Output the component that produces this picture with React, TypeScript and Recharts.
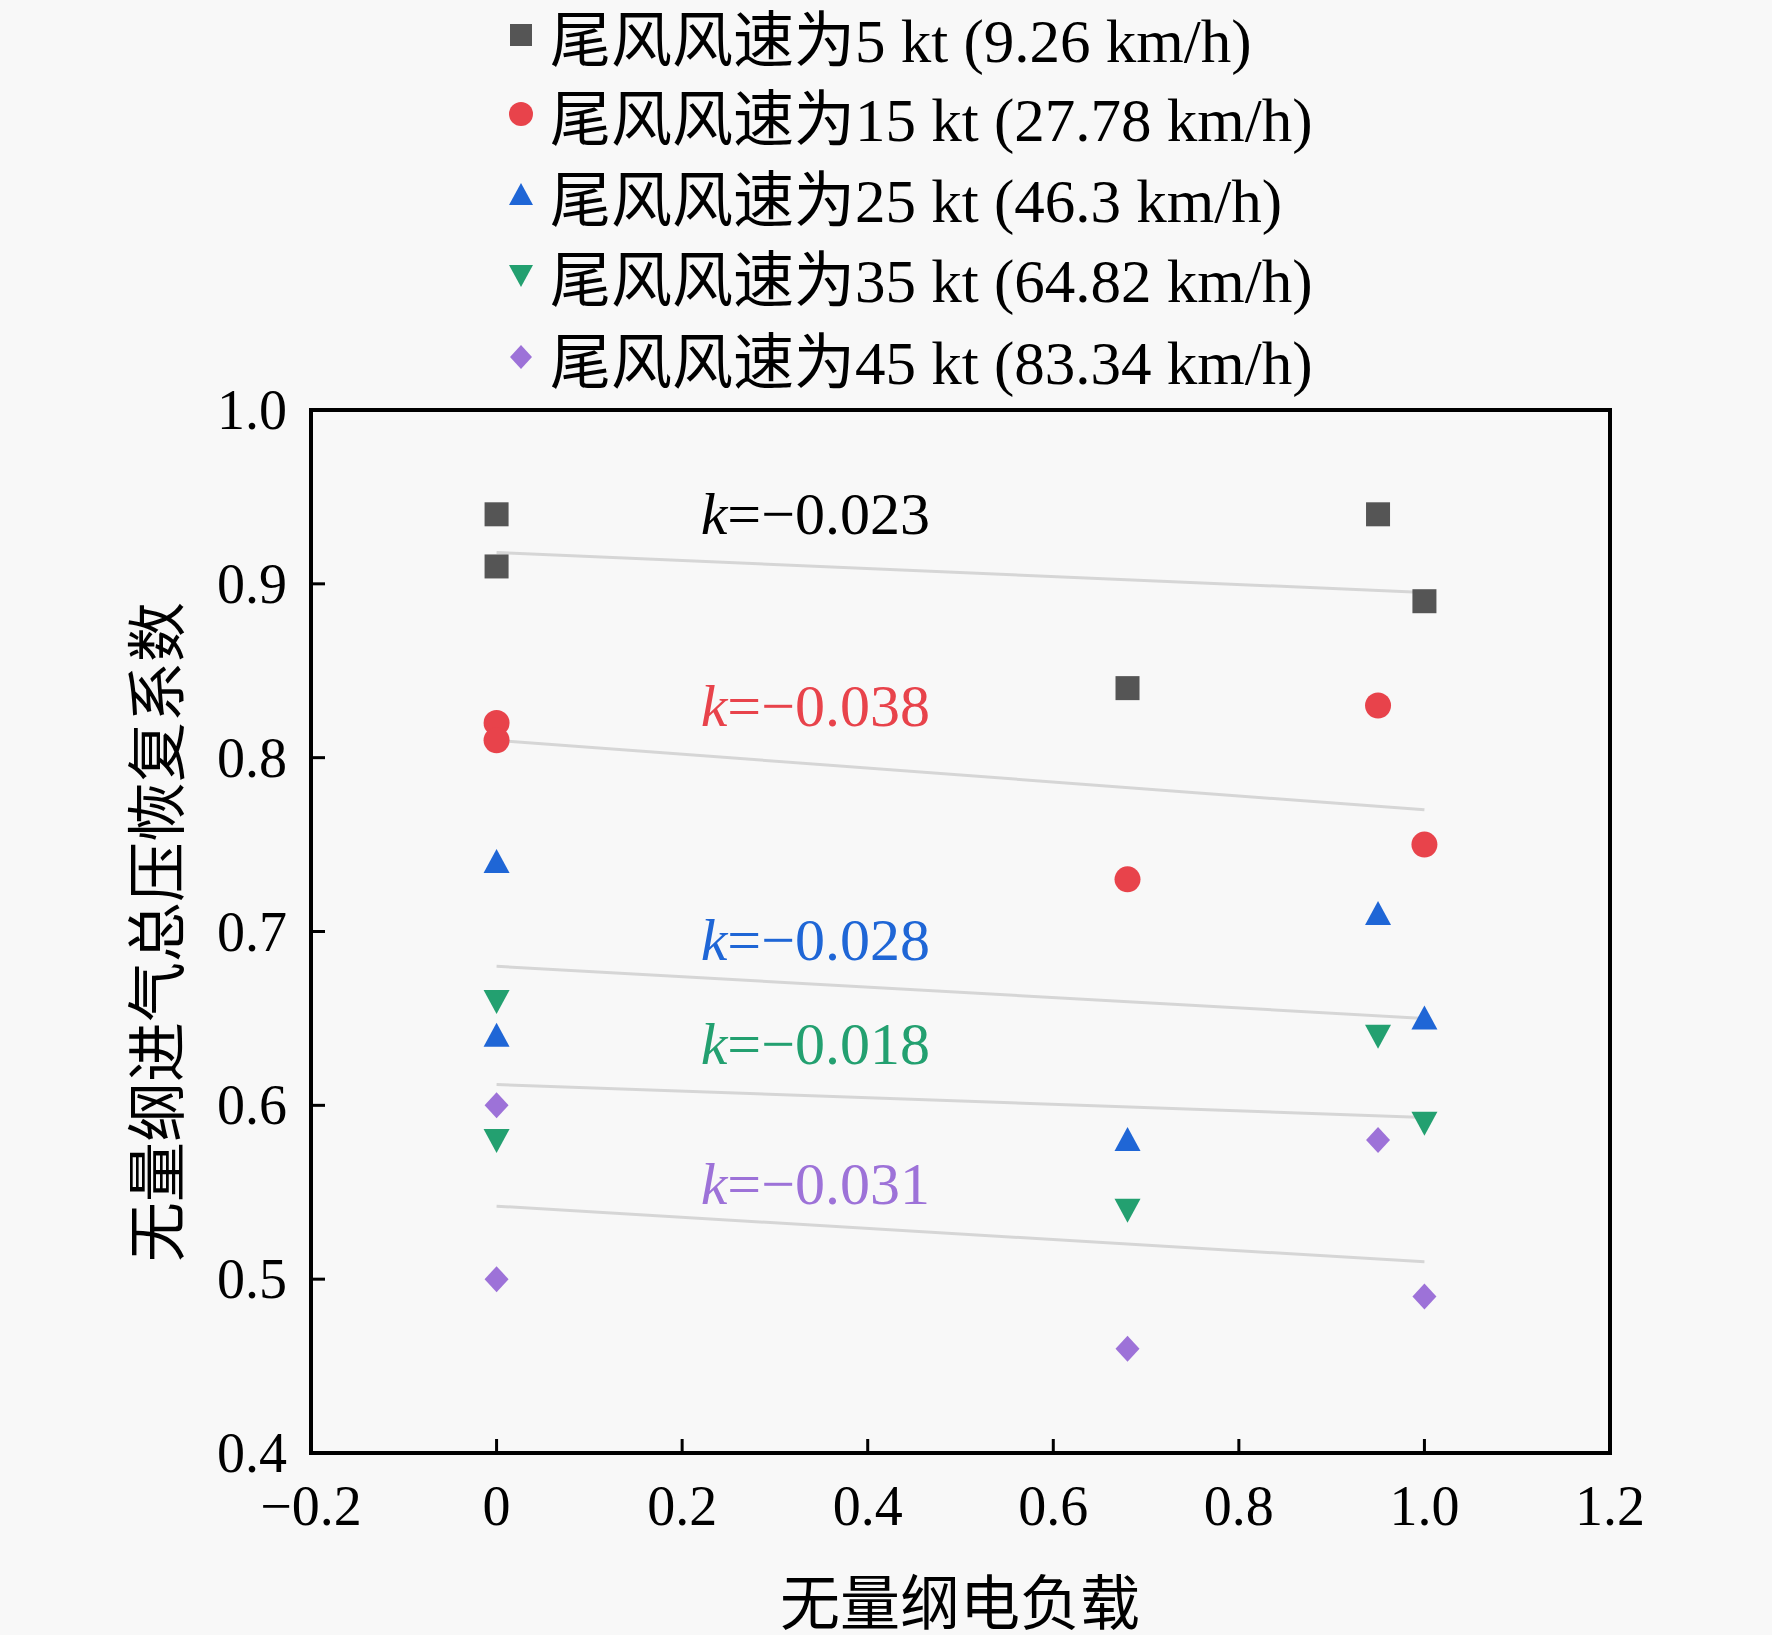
import React from "react";
import { ScatterChart, Scatter, XAxis, YAxis, ReferenceLine, ReferenceArea } from "recharts";

const X_POS = [0, 0, 0.68, 0.95, 1];
const SERIES_NAMES = [
  "尾风风速为5 kt (9.26 km/h)",
  "尾风风速为15 kt (27.78 km/h)",
  "尾风风速为25 kt (46.3 km/h)",
  "尾风风速为35 kt (64.82 km/h)",
  "尾风风速为45 kt (83.34 km/h)",
];
const Y_5KT = [0.94, 0.91, 0.84, 0.94, 0.89];
const Y_15KT = [0.82, 0.81, 0.73, 0.83, 0.75];
const Y_25KT = [0.74, 0.64, 0.58, 0.71, 0.65];
const Y_35KT = [0.66, 0.58, 0.54, 0.64, 0.59];
const Y_45KT = [0.6, 0.5, 0.46, 0.58, 0.49];
const FIT_START = [0.918, 0.81, 0.68, 0.612, 0.542];
const FIT_END = [0.895, 0.77, 0.65, 0.593, 0.51];
const SLOPE_LABELS = ["−0.023", "−0.038", "−0.028", "−0.018", "−0.031"];
const LABEL_Y = [0.94, 0.83, 0.695, 0.635, 0.555];
const X_TICKS = [-0.2, 0, 0.2, 0.4, 0.6, 0.8, 1.0, 1.2];
const X_TICK_LABELS = ["−0.2", "0", "0.2", "0.4", "0.6", "0.8", "1.0", "1.2"];
const Y_TICKS = [0.4, 0.5, 0.6, 0.7, 0.8, 0.9, 1.0];

const COLORS = ["#555555", "#e8434b", "#1f66d6", "#23a070", "#9d72d8"];
const KINDS = ["square", "circle", "up", "down", "diamond"];
const ALL_Y = [Y_5KT, Y_15KT, Y_25KT, Y_35KT, Y_45KT];
const FONT = "'Liberation Serif', 'Times New Roman', 'Noto Sans CJK SC', serif";

function Marker({ kind, color, cx, cy, s = 12 }: any) {
  if (kind === "square") return <rect x={cx - s} y={cy - s} width={2 * s} height={2 * s} fill={color} />;
  if (kind === "circle") return <circle cx={cx} cy={cy} r={s + 1} fill={color} />;
  if (kind === "up") return <polygon points={`${cx},${cy - s - 1} ${cx - s - 1},${cy + s - 1} ${cx + s + 1},${cy + s - 1}`} fill={color} />;
  if (kind === "down") return <polygon points={`${cx},${cy + s + 1} ${cx - s - 1},${cy - s + 1} ${cx + s + 1},${cy - s + 1}`} fill={color} />;
  return <polygon points={`${cx},${cy - s - 1} ${cx + s},${cy} ${cx},${cy + s + 1} ${cx - s},${cy}`} fill={color} />;
}

const XTick = ({ x, y, index }: any) => (
  <g>
    <line x1={x} x2={x} y1={y} y2={y - 14} stroke="#000" strokeWidth={3} />
    <text x={x} y={y + 72} textAnchor="middle" fontSize={56} fontFamily={FONT} fill="#000">
      {X_TICK_LABELS[index]}
    </text>
  </g>
);

const YTick = ({ x, y, payload }: any) => (
  <g>
    <line x1={x} x2={x + 14} y1={y} y2={y} stroke="#000" strokeWidth={3} />
    <text x={x - 24} y={y + 19} textAnchor="end" fontSize={56} fontFamily={FONT} fill="#000">
      {payload.value.toFixed(1)}
    </text>
  </g>
);

export default function App() {
  return (
    <div style={{ position: "absolute", left: 0, top: 0, width: 1772, height: 1635, background: "#f8f8f8", fontFamily: FONT }}>
      <div style={{ position: "absolute", left: 500, top: 0 }}>
        {SERIES_NAMES.map((n, i) => (
          <div key={n} style={{ position: "absolute", top: [0, 79, 160, 240, 322][i], left: 0, height: 70, whiteSpace: "nowrap", display: "flex", alignItems: "center" }}>
            <svg width={44} height={44}>
              <Marker kind={KINDS[i]} color={COLORS[i]} cx={21} cy={22} s={11} />
            </svg>
            <span style={{ fontSize: 61, marginLeft: 6, color: "#000" }}>{n}</span>
          </div>
        ))}
      </div>
      <ScatterChart width={1772} height={1635} margin={{ top: 410, left: 231, right: 162, bottom: 112 }}>
        <XAxis type="number" dataKey="x" domain={[-0.2, 1.2]} ticks={X_TICKS} height={70} tickSize={0} tickMargin={0} axisLine={false} tickLine={false} tick={<XTick />} interval={0} />
        <YAxis type="number" dataKey="y" domain={[0.4, 1.0]} ticks={Y_TICKS} width={80} tickSize={0} tickMargin={0} axisLine={false} tickLine={false} tick={<YTick />} interval={0} />
        <ReferenceArea x1={-0.2} x2={1.2} y1={0.4} y2={1.0} fill="none" stroke="#000" strokeWidth={4} fillOpacity={0} />
        {FIT_START.map((s, i) => (
          <ReferenceLine key={"f" + i} segment={[{ x: 0, y: s }, { x: 1, y: FIT_END[i] }]} stroke="#d6d6d6" strokeWidth={3} />
        ))}
        {SLOPE_LABELS.map((t, i) => (
          <ReferenceLine
            key={"l" + i}
            segment={[{ x: 0.22, y: LABEL_Y[i] }, { x: 0.5, y: LABEL_Y[i] }]}
            stroke="none"
            label={({ viewBox }: any) => (
              <text x={viewBox.x} y={viewBox.y + 20} fontSize={60} fontFamily={FONT} fill={i === 0 ? "#000" : COLORS[i]}>
                <tspan fontStyle="italic">k</tspan>={t}
              </text>
            )}
          />
        ))}
        {ALL_Y.map((ys, i) => (
          <Scatter
            key={i}
            data={ys.map((y, j) => ({ x: X_POS[j], y }))}
            isAnimationActive={false}
            shape={(p: any) => <Marker kind={KINDS[i]} color={COLORS[i]} cx={p.cx} cy={p.cy} />}
          />
        ))}
      </ScatterChart>
      <div style={{ position: "absolute", left: 960, top: 1555, transform: "translateX(-50%)", fontSize: 60, whiteSpace: "nowrap" }}>无量纲电负载</div>
      <div style={{ position: "absolute", left: 152, top: 932, transform: "translate(-50%,-50%) rotate(-90deg)", fontSize: 60, whiteSpace: "nowrap" }}>
        无量纲进气总压恢复系数
      </div>
    </div>
  );
}
